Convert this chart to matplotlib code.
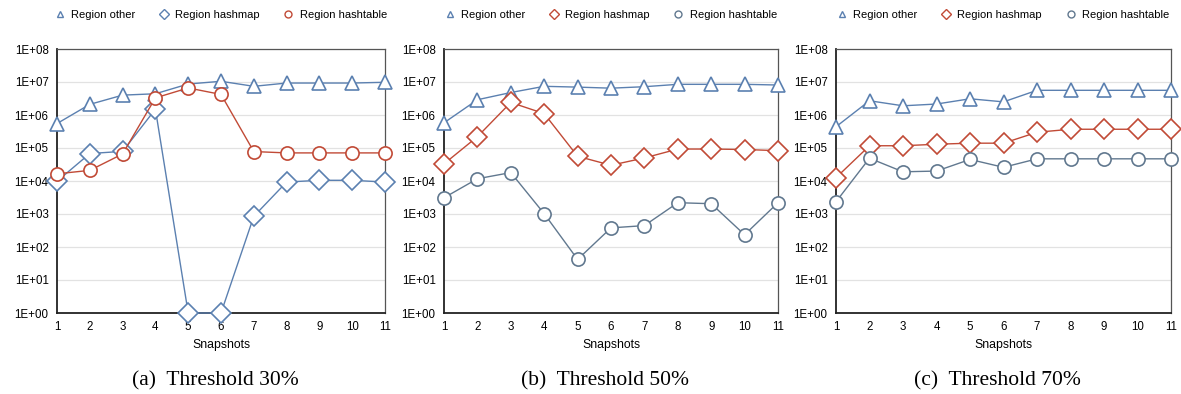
#!/usr/bin/env python3
"""Region sizes per snapshot for three thresholds (log scale)."""

import math

import matplotlib

matplotlib.use("Agg")
import matplotlib.pyplot as plt
from matplotlib.lines import Line2D
from matplotlib.ticker import FixedLocator, FuncFormatter

plt.rcParams["font.family"] = ["Liberation Sans", "DejaVu Sans"]

SNAPSHOTS = [1, 2, 3, 4, 5, 6, 7, 8, 9, 10, 11]
CAPTIONS = ["(a)  Threshold 30%", "(b)  Threshold 50%", "(c)  Threshold 70%"]
SERIES_NAMES = ["Region other", "Region hashmap", "Region hashtable"]

# threshold 30%
OTHER_30 = [5.5e5, 2.1e6, 4.0e6, 4.4e6, 8.7e6, 1.05e7, 7.4e6, 9.3e6, 9.3e6, 9.3e6, 9.8e6]
HASHMAP_30 = [9.8e3, 6.8e4, 7.9e4, 1.5e6, 1.0, 1.0, 8.5e2, 9.3e3, 1.05e4, 1.05e4, 9.3e3]
HASHTABLE_30 = [1.65e4, 2.1e4, 6.6e4, 3.3e6, 6.6e6, 4.2e6, 7.8e4, 7.1e4, 7.1e4, 7.1e4, 7.1e4]

# threshold 50%
OTHER_50 = [5.8e5, 2.9e6, 4.8e6, 7.4e6, 7.0e6, 6.5e6, 7.2e6, 8.5e6, 8.5e6, 8.5e6, 8.1e6]
HASHMAP_50 = [3.3e4, 2.2e5, 2.4e6, 1.1e6, 5.6e4, 3.0e4, 5.0e4, 9.3e4, 9.3e4, 9.0e4, 8.3e4]
HASHTABLE_50 = [3.1e3, 1.17e4, 1.8e4, 1.02e3, 42, 380, 445, 2.2e3, 2.05e3, 235, 2.2e3]

# threshold 70%
OTHER_70 = [4.4e5, 2.7e6, 1.9e6, 2.15e6, 3.1e6, 2.5e6, 5.6e6, 5.6e6, 5.6e6, 5.6e6, 5.6e6]
HASHMAP_70 = [1.26e4, 1.17e5, 1.17e5, 1.3e5, 1.4e5, 1.4e5, 3.0e5, 3.7e5, 3.7e5, 3.7e5, 3.7e5]
HASHTABLE_70 = [2.35e3, 4.9e4, 1.9e4, 2.0e4, 4.5e4, 2.6e4, 4.7e4, 4.7e4, 4.7e4, 4.7e4, 4.7e4]

BLUE = "#5b80b0"
RED = "#c14a36"
SLATE = "#61788f"

FIG_W, FIG_H = 1181, 394
# axes boxes in pixels: left, right, top, bottom
AX_BOXES = [(57, 385, 49, 313), (444, 778, 49, 313), (836, 1171, 49, 313)]


def decade_label(value, _pos):
    exp = int(round(math.log10(value)))
    return f"1E+{exp:02d}"


def draw_panel(fig, box, caption, series):
    left, right, top, bottom = box
    ax = fig.add_axes([left / FIG_W, 1 - bottom / FIG_H,
                       (right - left) / FIG_W, (bottom - top) / FIG_H])
    for values, color, marker, size in series:
        ax.plot(SNAPSHOTS, values, color=color, linewidth=1.0, marker=marker,
                markersize=size, markerfacecolor="white", markeredgecolor=color,
                markeredgewidth=1.2, clip_on=False, zorder=3)
    ax.set_yscale("log")
    ax.set_ylim(1, 1e8)
    ax.set_xlim(1, 11)
    ax.yaxis.set_major_locator(FixedLocator([10.0 ** k for k in range(9)]))
    ax.yaxis.set_minor_locator(FixedLocator([]))
    ax.yaxis.set_major_formatter(FuncFormatter(decade_label))
    ax.set_xticks(SNAPSHOTS)
    ax.tick_params(axis="both", length=0, labelsize=8.3, pad=6)
    ax.grid(axis="y", color="#e2e2e2", linewidth=0.9)
    ax.set_axisbelow(True)
    for side in ("left", "bottom"):
        ax.spines[side].set_color("#222222")
        ax.spines[side].set_linewidth(1.3)
    for side in ("top", "right"):
        ax.spines[side].set_color("#555555")
        ax.spines[side].set_linewidth(0.9)
    ax.set_xlabel("Snapshots", fontsize=8.8, labelpad=4)

    handles = [Line2D([], [], linestyle="none", marker=m, markersize=5,
                      markerfacecolor="white", markeredgecolor=c, markeredgewidth=1.0)
               for _, c, m, _ in series]
    cx = (left + right) / 2 / FIG_W
    fig.legend(handles, SERIES_NAMES, loc="center", bbox_to_anchor=(cx, 1 - 15 / FIG_H),
               ncol=3, frameon=False, fontsize=8, handlelength=0.8,
               handletextpad=0.6, columnspacing=2.2)
    fig.text(cx - 0.005, 1 - 381 / FIG_H, caption, ha="center", va="center",
             fontsize=15.5, family=["Liberation Serif", "DejaVu Serif"])
    return ax


def main():
    fig = plt.figure(figsize=(FIG_W / 100, FIG_H / 100), dpi=100)
    panels = [
        [(OTHER_30, BLUE, "^", 10.5), (HASHMAP_30, BLUE, "D", 10), (HASHTABLE_30, RED, "o", 9.5)],
        [(OTHER_50, BLUE, "^", 10.5), (HASHMAP_50, RED, "D", 10), (HASHTABLE_50, SLATE, "o", 9.5)],
        [(OTHER_70, BLUE, "^", 10.5), (HASHMAP_70, RED, "D", 10), (HASHTABLE_70, SLATE, "o", 9.5)],
    ]
    for box, caption, series in zip(AX_BOXES, CAPTIONS, panels):
        draw_panel(fig, box, caption, series)
    fig.savefig("out.png", dpi=100)
    plt.close(fig)


if __name__ == "__main__":
    main()
